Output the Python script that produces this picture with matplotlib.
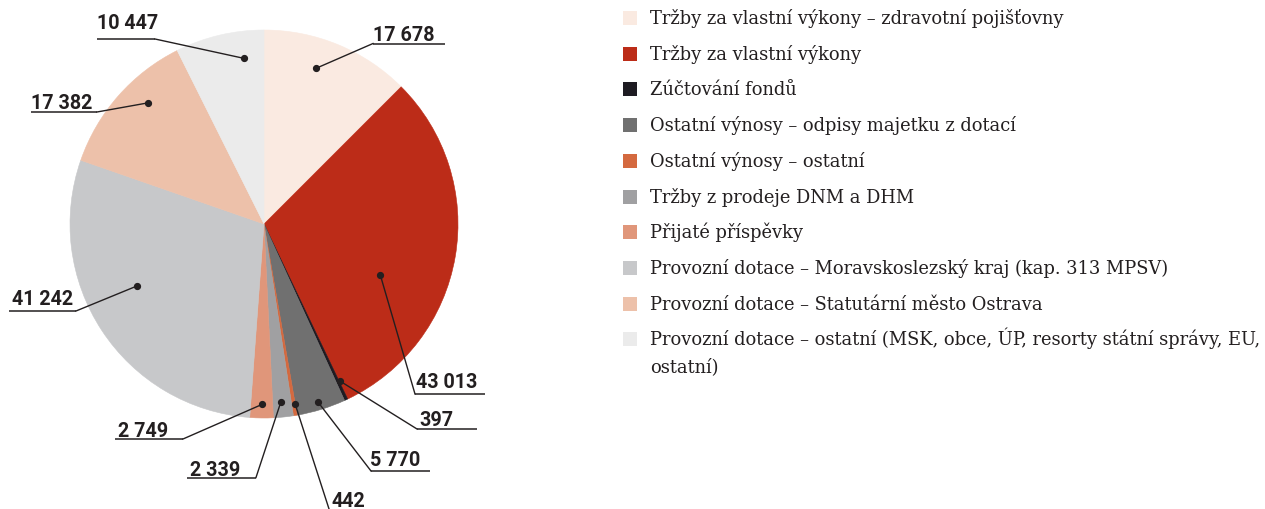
import matplotlib
matplotlib.use("Agg")
import matplotlib.pyplot as plt
from matplotlib.patches import Rectangle
import numpy as np

# ---- data ----
categories = [
    "Tržby za vlastní výkony – zdravotní pojišťovny",
    "Tržby za vlastní výkony",
    "Zúčtování fondů",
    "Ostatní výnosy – odpisy majetku z dotací",
    "Ostatní výnosy – ostatní",
    "Tržby z prodeje DNM a DHM",
    "Přijaté příspěvky",
    "Provozní dotace – Moravskoslezský kraj (kap. 313 MPSV)",
    "Provozní dotace – Statutární město Ostrava",
    "Provozní dotace – ostatní (MSK, obce, ÚP, resorty státní správy, EU,\nostatní)",
]
values = [17678, 43013, 397, 5770, 442, 2339, 2749, 41242, 17382, 10447]
value_labels = ["17 678", "43 013", "397", "5 770", "442", "2 339", "2 749",
                "41 242", "17 382", "10 447"]
colors = ["#FAEAE1", "#BC2C18", "#1E1B22", "#707070", "#D4693F", "#A0A0A2",
          "#E0967A", "#C7C8CA", "#EDC1AA", "#EBEBEB"]

# ---- layout (pixels, y measured from top) ----
W, H = 1265, 509
CX, CY, R = 264, 224, 194
dot_layout = [(-4.1, 0.845), (14.0, 0.655), (-0.8, 0.90), (0.3, 0.96), (-0.5, 0.94),
              (0.3, 0.92), (-0.1, 0.93), (7.3, 0.73), (4.9, 0.865), (6.4, 0.86)]
label_layout = [
    (373, 41, 373, 445, 43.5, "L"),
    (416, 388, 415, 485, 394, "L"),
    (419, 426, 417, 477, 429, "L"),
    (370, 466, 371, 430, 471, "L"),
    (332, 507, 330, 390, 512, "L"),
    (190, 476, 187, 256, 477.5, "R"),
    (118, 437, 115, 183, 439, "R"),
    (12, 305, 9, 76, 311, "R"),
    (31, 109, 31, 97, 112, "R"),
    (97, 29, 97, 155, 39, "R"),
]

INK = "#231F20"

fig = plt.figure(figsize=(W / 100, H / 100), dpi=100)
ax = fig.add_axes([0, 0, 1, 1])

def py(y):
    return H - y

wedges, _ = ax.pie(values, colors=colors, startangle=90, counterclock=False,
                   center=(CX, py(CY)), radius=R,
                   wedgeprops=dict(linewidth=0.4, antialiased=True))
for w in wedges:
    w.set_edgecolor(w.get_facecolor())
ax.set_xlim(0, W)
ax.set_ylim(0, H)
ax.set_aspect("equal")
ax.axis("off")

for w, lab, (dshift, rf), (tx, ty, ux1, ux2, uy, side) in zip(
        wedges, value_labels, dot_layout, label_layout):
    mid = 0.5 * (w.theta1 + w.theta2) - dshift
    a = np.deg2rad(mid)
    dx = CX + rf * R * np.cos(a)
    dy = py(CY) + rf * R * np.sin(a)
    ex = ux1 if side == "L" else ux2
    ax.plot([ux1, ux2], [py(uy), py(uy)], color=INK, lw=1.1, solid_capstyle="butt",
            clip_on=False)
    ax.plot([ex, dx], [py(uy), dy], color=INK, lw=1.0, clip_on=False)
    ax.plot([dx], [dy], "o", color=INK, ms=4.2, clip_on=False)
    ax.text(tx, py(ty), lab, ha="left", va="baseline", fontsize=14.2,
            fontweight="bold", family=["Roboto", "DejaVu Sans"], color=INK)

# ---- legend ----
row0, step, line_step = 18, 35.7, 27
for i, (cat, col) in enumerate(zip(categories, colors)):
    yc = row0 + i * step
    ax.add_patch(Rectangle((623, py(yc) - 7), 14, 14, facecolor=col,
                           edgecolor="none"))
    for j, line in enumerate(cat.split("\n")):
        ax.text(650, py(yc + j * line_step) - 6, line, ha="left", va="baseline",
                fontsize=12.9, family=["DejaVu Serif"], color=INK)

fig.savefig("out.png", dpi=100)
